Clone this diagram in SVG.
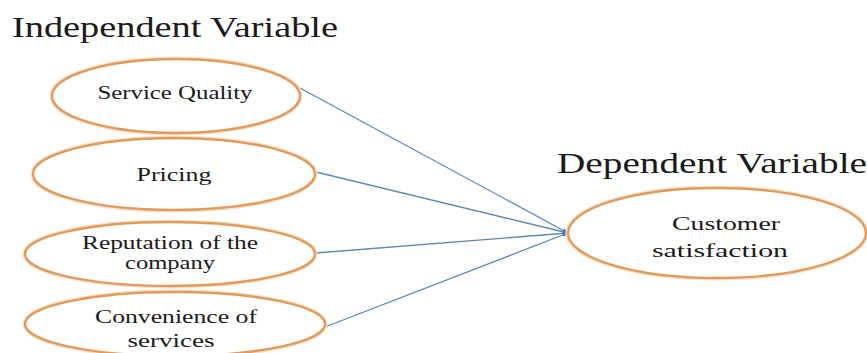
<svg xmlns="http://www.w3.org/2000/svg" width="867" height="353" viewBox="0 0 867 353">
  <defs>
    <marker id="arrow" viewBox="0 0 10 10" refX="9" refY="5" markerWidth="6" markerHeight="6" orient="auto" markerUnits="userSpaceOnUse">
      <path d="M0,1 L10,5 L0,9 z" fill="#4A78B0"/>
    </marker>
  </defs>
  <style>
    .halo { fill: none; stroke: #F8E2CC; stroke-width: 5; }
    .oval { fill: #FFFFFF; stroke: #E3995A; stroke-width: 2.4; }
    .title { font-family: "Liberation Serif", "Times New Roman", serif; font-size: 29px; fill: #1A1A1A; }
    .label { font-family: "Liberation Serif", "Times New Roman", serif; font-size: 18px; fill: #1A1A1A; text-anchor: middle; }
    .link { stroke: #5E88B8; stroke-width: 1.3; fill: none; marker-end: url(#arrow); }
  </style>
  <rect width="867" height="353" fill="#FFFFFF"/>

  <text class="title" x="12" y="37" textLength="326" lengthAdjust="spacingAndGlyphs">Independent Variable</text>
  <text class="title" x="557" y="173" textLength="310" lengthAdjust="spacingAndGlyphs">Dependent Variable</text>

  <g id="connectors">
    <line class="link" x1="300" y1="88" x2="568" y2="233"/>
    <line class="link" x1="316" y1="172" x2="568" y2="233"/>
    <line class="link" x1="316" y1="253" x2="568" y2="233"/>
    <line class="link" x1="325" y1="327" x2="568" y2="233"/>
  </g>

  <g id="service-quality">
    <ellipse class="halo" cx="176" cy="96" rx="124" ry="37"/>
    <ellipse class="oval" cx="176" cy="96" rx="124" ry="37"/>
    <text class="label" x="175" y="99" textLength="155" lengthAdjust="spacingAndGlyphs">Service Quality</text>
  </g>

  <g id="pricing">
    <ellipse class="halo" cx="174" cy="174" rx="141" ry="36"/>
    <ellipse class="oval" cx="174" cy="174" rx="141" ry="36"/>
    <text class="label" x="174" y="181" textLength="75" lengthAdjust="spacingAndGlyphs">Pricing</text>
  </g>

  <g id="reputation">
    <ellipse class="halo" cx="170" cy="254" rx="145" ry="32"/>
    <ellipse class="oval" cx="170" cy="254" rx="145" ry="32"/>
    <text class="label" x="170" y="249" textLength="176" lengthAdjust="spacingAndGlyphs">Reputation of the</text>
    <text class="label" x="170" y="269" textLength="90" lengthAdjust="spacingAndGlyphs">company</text>
  </g>

  <g id="convenience">
    <ellipse class="halo" cx="175" cy="324" rx="150" ry="32"/>
    <ellipse class="oval" cx="175" cy="324" rx="150" ry="32"/>
    <text class="label" x="176" y="323" textLength="162" lengthAdjust="spacingAndGlyphs">Convenience of</text>
    <text class="label" x="171" y="347" textLength="87" lengthAdjust="spacingAndGlyphs">services</text>
  </g>

  <g id="customer-satisfaction">
    <ellipse class="halo" cx="717" cy="233" rx="149" ry="45"/>
    <ellipse class="oval" cx="717" cy="233" rx="149" ry="45"/>
    <text class="label" x="726" y="230" textLength="108" lengthAdjust="spacingAndGlyphs">Customer</text>
    <text class="label" x="720" y="257" textLength="136" lengthAdjust="spacingAndGlyphs">satisfaction</text>
  </g>
</svg>
